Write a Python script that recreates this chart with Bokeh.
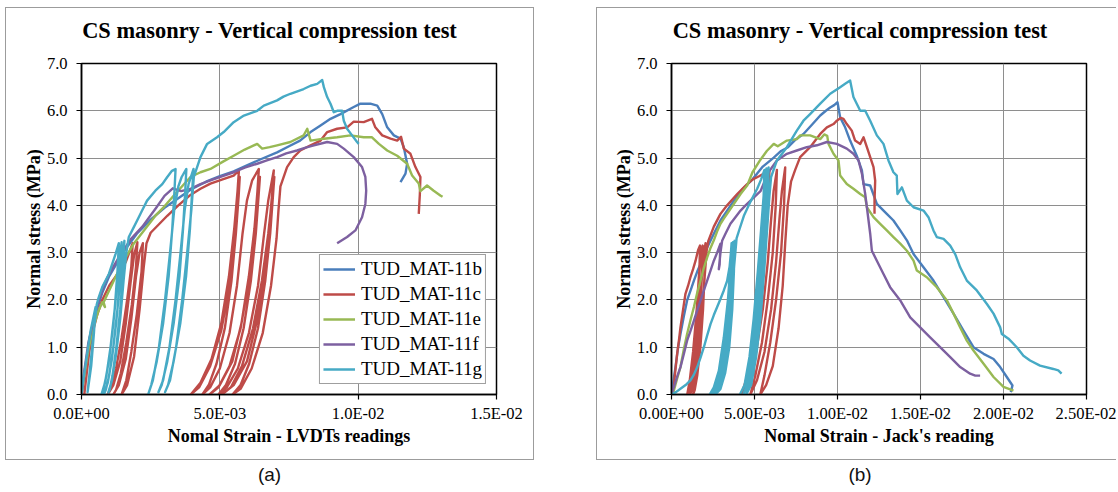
from bokeh.plotting import figure
from bokeh.models import Range1d, FixedTicker, Div, Spacer
from bokeh.layouts import row, column
from bokeh.embed import file_html
from bokeh.resources import INLINE

# ---------------- data ----------------
series_names = ["TUD_MAT-11b", "TUD_MAT-11c", "TUD_MAT-11e", "TUD_MAT-11f", "TUD_MAT-11g"]
series_colors = ["#4A7EBB", "#BE4B48", "#98B954", "#7D60A0", "#46AAC5"]

y_ticks = [0, 1, 2, 3, 4, 5, 6, 7]
y_tick_labels = ["0.0", "1.0", "2.0", "3.0", "4.0", "5.0", "6.0", "7.0"]
# strain values are stored in units of 1E-03
xa_ticks = [0, 5, 10, 15]
xa_tick_labels = ["0.0E+00", "5.0E-03", "1.0E-02", "1.5E-02"]
xb_ticks = [0, 5, 10, 15, 20, 25]
xb_tick_labels = ["0.00E+00", "5.00E-03", "1.00E-02", "1.50E-02", "2.00E-02", "2.50E-02"]

# (a) LVDT readings : (strain x1E-3, stress MPa)
a_11b = [(0, 0), (0.15, 0.6), (0.3, 1.2), (0.5, 1.7), (0.75, 2.15), (1.0, 2.5), (1.5, 3.0), (2.0, 3.4),
         (2.5, 3.7), (3.0, 3.95), (3.5, 4.15), (3.94, 4.33), (4.5, 4.5), (5.0, 4.62), (5.5, 4.72),
         (6.0, 4.85), (6.5, 4.98), (7.07, 5.12), (7.5, 5.25), (7.9, 5.37), (8.28, 5.55), (8.64, 5.69),
         (9.0, 5.83), (9.36, 5.93), (9.84, 6.08), (10.08, 6.15), (10.44, 6.15), (10.69, 6.11),
         (10.87, 5.93), (11.05, 5.65), (11.29, 5.48), (11.53, 5.41), (11.65, 5.23), (11.77, 4.88),
         (11.71, 4.67), (11.53, 4.49)]

a_11c = [(0.1, 0), (0.18, 0.4), (0.28, 0.9), (0.4, 1.3), (0.55, 1.65), (0.75, 2.0), (1.0, 2.3), (1.3, 2.55),
         (1.6, 2.8), (1.85, 3.2),
         (1.8, 2.7), (1.65, 2.0), (1.45, 1.2), (1.25, 0.55), (1.05, 0.15), (0.95, 0),
         (1.15, 0.2), (1.4, 0.7), (1.6, 1.5), (1.78, 2.4), (1.9, 2.95), (2.02, 3.22),
         (1.97, 2.7), (1.82, 1.9), (1.62, 1.1), (1.42, 0.45), (1.25, 0.1), (1.15, 0),
         (1.35, 0.2), (1.6, 0.75), (1.8, 1.6), (1.97, 2.5), (2.1, 3.0), (2.22, 3.2),
         (2.17, 2.6), (2.0, 1.7), (1.8, 0.9), (1.62, 0.3), (1.45, 0),
         (1.65, 0.2), (1.9, 0.8), (2.1, 1.8), (2.25, 2.7), (2.35, 3.2),
         (2.5, 3.42), (2.8, 3.6), (3.1, 3.78), (3.5, 4.0), (3.94, 4.22), (4.3, 4.35), (4.66, 4.46),
         (5.1, 4.55), (5.5, 4.63), (5.69, 4.74),
         (5.64, 4.3), (5.52, 3.5), (5.33, 2.5), (5.05, 1.5), (4.7, 0.75), (4.3, 0.25), (3.95, 0),
         (4.25, 0.15), (4.65, 0.6), (5.05, 1.35), (5.35, 2.3), (5.55, 3.3), (5.65, 4.0), (5.72, 4.6),
         (5.68, 4.2), (5.58, 3.4), (5.42, 2.4), (5.18, 1.4), (4.88, 0.65), (4.6, 0.2), (4.37, 0),
         (4.65, 0.15), (5.0, 0.55), (5.35, 1.3), (5.62, 2.3), (5.82, 3.4), (5.98, 4.1), (6.17, 4.53),
         (6.41, 4.77),
         (6.36, 4.3), (6.25, 3.5), (6.05, 2.5), (5.78, 1.5), (5.45, 0.7), (5.0, 0.2), (4.63, 0),
         (4.95, 0.15), (5.35, 0.6), (5.75, 1.4), (6.05, 2.4), (6.25, 3.4), (6.37, 4.1), (6.45, 4.6),
         (6.4, 4.2), (6.3, 3.4), (6.12, 2.4), (5.86, 1.4), (5.55, 0.65), (5.22, 0.2), (4.95, 0),
         (5.25, 0.15), (5.65, 0.55), (6.05, 1.3), (6.38, 2.3), (6.6, 3.4), (6.75, 4.1), (6.95, 4.74),
         (6.9, 4.3), (6.78, 3.5), (6.6, 2.5), (6.32, 1.5), (5.98, 0.7), (5.5, 0.2), (5.08, 0),
         (5.4, 0.15), (5.8, 0.6), (6.2, 1.4), (6.52, 2.4), (6.75, 3.4), (6.88, 4.1), (6.97, 4.6),
         (6.92, 4.2), (6.82, 3.4), (6.64, 2.4), (6.38, 1.4), (6.06, 0.65), (5.75, 0.2), (5.46, 0),
         (5.75, 0.12), (6.15, 0.55), (6.55, 1.3), (6.85, 2.3), (7.05, 3.3), (7.12, 3.9), (7.19, 4.4),
         (7.43, 4.81), (7.67, 5.02), (7.91, 5.16), (8.28, 5.27), (8.64, 5.37), (8.88, 5.55), (9.24, 5.62),
         (9.6, 5.65), (9.84, 5.77), (10.2, 5.76), (10.5, 5.83), (10.62, 5.65), (10.87, 5.48), (11.17, 5.41),
         (11.41, 5.37), (11.55, 5.45), (11.65, 5.2), (11.89, 5.09), (12.07, 4.81), (12.25, 4.6),
         (12.23, 4.24), (12.19, 3.82)]

a_11e = [(0, 0), (0.1, 0.4), (0.25, 0.95), (0.4, 1.35), (0.6, 1.75), (0.75, 1.95), (0.85, 1.85), (0.8, 1.95),
         (1.0, 2.2), (1.2, 2.45), (1.45, 2.75), (1.55, 2.7), (1.6, 2.9), (1.9, 3.2), (2.3, 3.5), (2.7, 3.8),
         (3.0, 3.98), (3.4, 4.25), (3.94, 4.6), (4.3, 4.7), (4.66, 4.77), (5.1, 4.92), (5.5, 5.05),
         (5.9, 5.18), (6.35, 5.3), (6.53, 5.2), (6.8, 5.23), (7.07, 5.27), (7.55, 5.34), (8.03, 5.48),
         (8.16, 5.62), (8.28, 5.37), (8.76, 5.41), (9.24, 5.44), (9.72, 5.48), (10.2, 5.44), (10.5, 5.44),
         (10.75, 5.3), (11.05, 5.16), (11.41, 5.05), (11.77, 4.88), (11.95, 4.63), (12.19, 4.46),
         (12.25, 4.3), (12.49, 4.42), (12.73, 4.31), (12.97, 4.21), (13.05, 4.18)]

a_11f = [(0, 0), (0.1, 0.5), (0.25, 1.1), (0.45, 1.6), (0.6, 1.95), (0.8, 2.3), (1.0, 2.55), (1.35, 2.9),
         (1.8, 3.3), (2.2, 3.55), (2.7, 3.95), (3.0, 4.2), (3.3, 4.36), (3.6, 4.3), (3.94, 4.35),
         (4.3, 4.45), (4.66, 4.53), (5.1, 4.62), (5.5, 4.7), (5.9, 4.8), (6.35, 4.88), (6.7, 4.95),
         (7.07, 5.02), (7.4, 5.1), (7.79, 5.16), (8.1, 5.22), (8.4, 5.27), (8.88, 5.34), (9.24, 5.3),
         (9.48, 5.2), (9.84, 5.02), (10.14, 4.81), (10.26, 4.6), (10.29, 4.31), (10.26, 4.03),
         (10.14, 3.75), (9.9, 3.47), (9.6, 3.33), (9.24, 3.2)]

a_11g = [(0, 0), (0.06, 0.3), (0.14, 0.6), (0.25, 1.05), (0.33, 1.35), (0.42, 1.6), (0.51, 1.85),
         (0.45, 1.3), (0.35, 0.6), (0.22, 0.05), (0.3, 0.5), (0.42, 1.2), (0.55, 1.9), (0.62, 2.05),
         (0.75, 2.27), (0.88, 2.42), (0.99, 2.55), (1.12, 2.78), (1.23, 2.97), (1.35, 3.2),
         (1.3, 2.6), (1.2, 1.8), (1.05, 1.0), (0.9, 0.4), (0.78, 0.08), (0.72, 0.0),
         (0.85, 0.25), (1.0, 0.75), (1.15, 1.5), (1.28, 2.3), (1.38, 2.9), (1.45, 3.22),
         (1.4, 2.6), (1.3, 1.8), (1.15, 1.0), (1.0, 0.4), (0.88, 0.1), (0.82, 0.02),
         (0.95, 0.25), (1.1, 0.75), (1.25, 1.5), (1.38, 2.3), (1.48, 2.9), (1.55, 3.25),
         (1.5, 2.6), (1.4, 1.8), (1.26, 1.0), (1.12, 0.4), (1.02, 0.1), (0.97, 0.04),
         (1.1, 0.3), (1.25, 0.85), (1.4, 1.6), (1.52, 2.4), (1.62, 3.0), (1.71, 3.33),
         (1.9, 3.55), (2.07, 3.75), (2.19, 3.89), (2.37, 4.1), (2.67, 4.31), (2.92, 4.45), (3.1, 4.6),
         (3.27, 4.73), (3.4, 4.77),
         (3.36, 4.3), (3.28, 3.5), (3.15, 2.5), (2.95, 1.5), (2.72, 0.7), (2.52, 0.2), (2.42, 0.02),
         (2.58, 0.3), (2.8, 1.0), (3.02, 2.0), (3.2, 3.0), (3.35, 3.9), (3.5, 4.4), (3.62, 4.6), (3.79, 4.77),
         (3.75, 4.3), (3.67, 3.5), (3.54, 2.5), (3.33, 1.5), (3.1, 0.7), (2.9, 0.2), (2.78, 0.05),
         (2.95, 0.3), (3.18, 1.0), (3.4, 2.0), (3.58, 3.0), (3.73, 3.9), (3.87, 4.45), (4.05, 4.77),
         (4.0, 4.3), (3.92, 3.5), (3.78, 2.5), (3.57, 1.5), (3.33, 0.7), (3.13, 0.2), (3.02, 0.05),
         (3.2, 0.3), (3.42, 1.0), (3.64, 2.0), (3.82, 3.0), (3.97, 3.9), (4.06, 4.6),
         (4.3, 5.02), (4.54, 5.3), (4.9, 5.44), (5.14, 5.55), (5.5, 5.76), (5.87, 5.9), (6.35, 6.0),
         (6.59, 6.11), (7.07, 6.22), (7.3, 6.3), (7.55, 6.36), (8.03, 6.46), (8.28, 6.53), (8.52, 6.57),
         (8.7, 6.65), (8.76, 6.5), (8.88, 6.29), (9.0, 6.15), (9.12, 5.97), (9.24, 6.0), (9.42, 6.0),
         (9.48, 5.79), (9.6, 5.62), (9.78, 5.48), (9.96, 5.34), (10.02, 5.3)]

# (b) Jack's reading : (strain x1E-3, stress MPa)
b_11b = [(0, 0), (0.1, 0.25), (0.24, 0.58), (0.4, 1.0), (0.54, 1.28), (0.74, 1.65), (0.94, 1.99),
         (1.15, 2.2), (1.35, 2.41), (1.55, 2.6), (1.75, 2.76), (1.95, 2.95), (2.15, 3.11), (2.55, 3.4),
         (2.95, 3.68), (3.35, 3.89), (3.76, 4.1), (4.3, 4.35), (4.88, 4.55), (5.5, 4.82), (6.16, 5.01),
         (6.6, 5.15), (7.02, 5.23), (7.5, 5.4), (7.95, 5.51), (8.5, 5.72), (8.96, 5.9), (9.3, 6.0),
         (9.56, 6.07), (9.8, 6.12), (10.0, 6.18), (10.16, 5.86), (10.46, 5.65), (10.76, 5.37),
         (11.16, 5.05), (11.47, 4.74), (11.57, 4.45), (11.97, 4.42), (12.37, 4.03), (12.97, 3.82),
         (13.37, 3.68), (13.78, 3.47), (14.18, 3.26), (14.58, 2.97), (15.18, 2.69), (15.78, 2.41),
         (16.39, 2.06), (16.99, 1.71), (17.59, 1.35), (18.19, 1.0), (18.8, 0.86), (19.4, 0.75),
         (19.8, 0.58), (20.2, 0.37), (20.54, 0.19), (20.44, 0.05)]

b_11c = [(0.1, 0), (0.2, 0.4), (0.34, 0.86), (0.45, 1.15), (0.54, 1.42), (0.7, 1.8), (0.84, 2.13),
         (1.0, 2.3), (1.14, 2.48), (1.3, 2.65), (1.45, 2.83), (1.6, 3.05), (1.72, 3.15),
         (1.68, 2.6), (1.58, 1.8), (1.42, 1.0), (1.22, 0.4), (1.05, 0.1), (0.95, 0),
         (1.1, 0.3), (1.3, 0.9), (1.5, 1.7), (1.65, 2.5), (1.78, 3.0), (1.88, 3.15),
         (1.84, 2.6), (1.74, 1.8), (1.58, 1.0), (1.38, 0.4), (1.22, 0.1), (1.12, 0),
         (1.28, 0.3), (1.48, 0.9), (1.68, 1.7), (1.83, 2.5), (1.96, 3.0), (2.05, 3.2),
         (2.0, 2.6), (1.9, 1.8), (1.74, 1.0), (1.55, 0.4), (1.4, 0.1), (1.3, 0),
         (1.46, 0.3), (1.66, 0.9), (1.86, 1.7), (2.0, 2.5), (2.12, 3.05), (2.22, 3.25),
         (2.55, 3.55), (2.95, 3.82), (3.35, 4.0), (3.65, 4.12), (3.96, 4.24), (4.3, 4.36), (4.56, 4.45),
         (4.9, 4.55), (5.3, 4.62), (5.6, 4.68), (5.9, 4.72),
         (5.82, 4.0), (5.62, 3.0), (5.32, 2.0), (4.97, 1.1), (4.57, 0.4), (4.22, 0),
         (4.6, 0.3), (5.1, 0.9), (5.5, 1.8), (5.8, 2.8), (6.0, 3.7), (6.15, 4.3), (6.35, 4.75),
         (6.28, 4.0), (6.1, 3.0), (5.8, 2.0), (5.45, 1.1), (5.05, 0.4), (4.75, 0),
         (5.15, 0.3), (5.6, 0.9), (6.0, 1.8), (6.3, 2.8), (6.5, 3.7), (6.65, 4.3), (6.85, 4.8),
         (6.78, 4.0), (6.6, 3.0), (6.3, 2.0), (5.95, 1.1), (5.6, 0.4), (5.35, 0),
         (5.7, 0.2), (6.1, 0.6), (6.45, 1.4), (6.7, 2.3), (6.85, 3.2), (7.0, 4.0), (7.2, 4.5), (7.45, 4.75),
         (7.75, 5.02), (8.35, 5.23), (8.96, 5.51), (9.36, 5.65), (9.76, 5.72), (9.96, 5.79), (10.2, 5.85),
         (10.36, 5.83), (10.56, 5.72), (10.86, 5.58), (11.06, 5.37), (11.37, 5.3), (11.57, 5.44),
         (11.77, 5.23), (11.97, 5.02), (12.17, 4.81), (12.27, 4.52), (12.23, 4.1), (12.23, 3.82)]

b_11e = [(0, 0), (0.14, 0.08), (0.35, 0.35), (0.54, 0.58), (0.74, 0.95), (0.94, 1.28), (1.15, 1.58),
         (1.35, 1.85), (1.55, 2.15), (1.75, 2.41), (1.95, 2.68), (2.15, 2.9), (2.35, 3.1), (2.55, 3.26),
         (2.75, 3.45), (2.95, 3.61), (3.15, 3.72), (3.35, 3.82), (3.76, 4.03), (4.16, 4.24), (4.56, 4.42),
         (4.88, 4.7), (5.31, 4.94), (5.74, 5.15), (6.16, 5.3), (6.4, 5.25), (6.95, 5.37), (7.55, 5.4),
         (7.75, 5.48), (8.35, 5.48), (8.96, 5.4), (9.2, 5.5), (9.38, 5.47), (9.46, 5.3), (9.76, 5.09),
         (10.06, 4.95), (10.16, 4.63), (10.56, 4.45), (10.96, 4.35), (11.37, 4.24), (11.67, 4.17),
         (11.77, 3.96), (12.17, 3.75), (12.57, 3.61), (12.97, 3.47), (13.37, 3.33), (13.78, 3.19),
         (14.18, 3.04), (14.58, 2.83), (14.78, 2.62), (15.38, 2.48), (15.98, 2.27), (16.59, 1.99),
         (16.99, 1.71), (17.39, 1.42), (17.79, 1.14), (18.19, 0.93), (18.8, 0.65), (19.4, 0.37),
         (20.0, 0.16), (20.6, 0.08)]

b_11f = [(0, 0), (0.14, 0.15), (0.34, 0.38), (0.54, 0.58), (0.74, 0.85), (0.94, 1.14), (1.15, 1.35),
         (1.35, 1.56), (1.55, 1.78), (1.75, 1.99), (1.95, 2.2), (2.15, 2.41), (2.35, 2.62), (2.55, 2.83),
         (2.75, 3.0), (2.95, 3.19), (2.9, 2.75), (2.85, 2.65), (2.95, 3.0), (3.05, 3.25), (3.25, 3.4),
         (3.55, 3.61), (3.85, 3.75), (4.16, 3.89), (4.46, 4.0), (4.76, 4.1), (5.06, 4.2), (5.36, 4.3),
         (5.6, 4.5), (5.8, 4.68), (6.35, 4.95), (6.95, 5.09), (7.55, 5.16), (8.15, 5.23), (8.76, 5.27),
         (9.36, 5.34), (9.96, 5.3), (10.56, 5.2), (10.96, 5.09), (11.27, 4.95), (11.47, 4.67),
         (11.67, 4.24), (11.77, 3.96), (11.97, 3.4), (12.07, 3.04), (12.37, 2.83), (12.77, 2.55),
         (13.17, 2.27), (13.78, 1.99), (14.38, 1.63), (14.98, 1.42), (15.58, 1.21), (16.18, 1.0),
         (16.79, 0.79), (17.39, 0.58), (17.99, 0.44), (18.3, 0.4), (18.59, 0.4)]

b_11g = [(0, 0), (0.27, 0.05), (0.54, 0.12), (0.85, 0.2), (1.14, 0.3), (1.35, 0.42), (1.55, 0.58),
         (1.75, 0.78), (1.95, 1.0), (2.15, 1.25), (2.35, 1.49), (2.55, 1.68), (2.75, 1.85), (2.95, 2.02),
         (3.15, 2.2), (3.35, 2.4), (3.5, 2.7), (3.58, 3.0), (3.62, 3.2),
         (3.58, 2.6), (3.48, 1.8), (3.3, 1.0), (3.05, 0.45), (2.75, 0.12), (2.5, 0.03), (2.3, 0),
         (2.55, 0.15), (2.85, 0.5), (3.15, 1.2), (3.4, 2.0), (3.55, 2.7), (3.7, 3.22),
         (3.66, 2.6), (3.56, 1.8), (3.38, 1.0), (3.13, 0.45), (2.85, 0.12), (2.6, 0.03), (2.42, 0),
         (2.67, 0.15), (2.97, 0.5), (3.27, 1.2), (3.5, 2.0), (3.65, 2.7), (3.8, 3.25),
         (3.76, 2.6), (3.66, 1.8), (3.48, 1.0), (3.23, 0.45), (2.95, 0.12), (2.72, 0.03), (2.55, 0),
         (2.8, 0.15), (3.1, 0.5), (3.4, 1.2), (3.62, 2.0), (3.77, 2.7), (3.92, 3.3),
         (4.1, 3.5), (4.36, 3.78), (4.76, 4.08), (5.16, 4.35), (5.4, 4.55), (5.6, 4.75),
         (5.55, 4.2), (5.45, 3.4), (5.28, 2.5), (5.02, 1.5), (4.72, 0.7), (4.4, 0.2), (4.12, 0),
         (4.4, 0.2), (4.7, 0.8), (4.95, 1.6), (5.2, 2.6), (5.4, 3.5), (5.55, 4.2), (5.72, 4.78),
         (5.67, 4.2), (5.57, 3.4), (5.4, 2.5), (5.14, 1.5), (4.84, 0.7), (4.55, 0.2), (4.32, 0),
         (4.6, 0.2), (4.9, 0.8), (5.15, 1.6), (5.38, 2.6), (5.57, 3.5), (5.7, 4.2), (5.85, 4.8),
         (5.8, 4.2), (5.7, 3.4), (5.53, 2.5), (5.28, 1.5), (4.98, 0.7), (4.7, 0.2), (4.5, 0),
         (4.8, 0.2), (5.1, 0.8), (5.36, 1.6), (5.58, 2.6), (5.76, 3.5), (5.9, 4.2), (6.0, 4.6),
         (6.35, 4.95), (6.95, 5.23), (7.55, 5.58), (7.95, 5.79), (8.35, 5.93), (8.96, 6.15), (9.56, 6.36),
         (10.16, 6.5), (10.46, 6.57), (10.76, 6.64),
         (10.96, 6.29), (11.16, 6.15), (11.37, 6.0), (11.67, 6.0), (11.97, 5.79), (12.37, 5.48),
         (12.77, 5.3), (13.07, 4.95), (13.37, 4.7), (13.57, 4.63), (13.61, 4.24), (13.88, 4.38),
         (14.18, 4.1), (14.58, 3.96), (15.18, 3.89), (15.48, 3.75), (15.78, 3.47), (15.98, 3.33),
         (16.39, 3.29), (16.79, 3.15), (17.09, 2.97), (17.39, 2.69), (17.79, 2.41), (18.39, 2.2),
         (18.99, 1.92), (19.4, 1.71), (19.8, 1.42), (19.9, 1.28), (20.3, 1.18), (20.8, 1.0), (21.2, 0.82),
         (21.6, 0.72), (22.2, 0.61), (23.0, 0.54), (23.3, 0.51), (23.5, 0.44)]

panel_a_series = [a_11b, a_11c, a_11e, a_11f, a_11g]
panel_b_series = [b_11b, b_11c, b_11e, b_11f, b_11g]

TITLE = "CS masonry - Vertical compression test"
SERIF = "Liberation Serif"
BOX = "1px solid #9c9c9c"


def make_panel(xlabel, xmax, xticks, xlabels, series, mbl, mbr, legend):
    p = figure(frame_width=415, frame_height=331,
               min_border_left=mbl, min_border_right=mbr, min_border_top=15, min_border_bottom=65,
               x_range=Range1d(0, xmax), y_range=Range1d(0, 7),
               output_backend="svg", toolbar_location=None)

    p.xaxis.ticker = FixedTicker(ticks=xticks)
    p.xaxis.major_label_overrides = {t: l for t, l in zip(xticks, xlabels)}
    p.yaxis.ticker = FixedTicker(ticks=y_ticks)
    p.yaxis.major_label_overrides = {t: l for t, l in zip(y_ticks, y_tick_labels)}
    p.xaxis.axis_label = xlabel
    p.yaxis.axis_label = "Normal stress (MPa)"
    for ax in (p.xaxis[0], p.yaxis[0]):
        ax.major_label_text_font = SERIF
        ax.major_label_text_font_size = "16.5px"
        ax.major_label_text_color = "black"
        ax.axis_label_text_font = SERIF
        ax.axis_label_text_font_size = "18px"
        ax.axis_label_text_font_style = "bold"
        ax.axis_label_text_color = "black"
        ax.axis_line_color = "black"
        ax.axis_line_width = 1.5
        ax.major_tick_line_color = "black"
        ax.major_tick_line_width = 1.2
        ax.major_tick_out = 5
        ax.major_tick_in = 0
        ax.minor_tick_out = 0
        ax.minor_tick_in = 0
    p.xaxis.major_label_standoff = 4
    p.yaxis.major_label_standoff = 9
    p.xaxis.axis_label_standoff = 0
    p.yaxis.axis_label_standoff = 0

    p.grid.grid_line_color = "#8e8e8e"
    p.grid.grid_line_width = 1
    p.outline_line_color = "black"
    p.outline_line_width = 1.5
    p.outline_line_alpha = 1
    p.background_fill_color = "white"
    p.border_fill_color = "white"

    for pts, name, col in zip(series, series_names, series_colors):
        xs = [q[0] for q in pts]
        ys = [q[1] for q in pts]
        if legend:
            p.line(xs, ys, line_color=col, line_width=2.4, line_join="round", legend_label=name)
        else:
            p.line(xs, ys, line_color=col, line_width=2.4, line_join="round")

    if legend:
        lg = p.legend[0]
        lg.location = "bottom_right"
        lg.margin = 10
        lg.padding = 3
        lg.spacing = 3
        lg.label_height = 22
        lg.glyph_height = 22
        lg.glyph_width = 32
        lg.label_standoff = 6
        lg.label_text_font = SERIF
        lg.label_text_font_size = "19px"
        lg.label_text_color = "black"
        lg.border_line_color = "#404040"
        lg.border_line_width = 1.2
        lg.background_fill_color = "white"
        lg.background_fill_alpha = 1
    return p


title_style = {"font-family": SERIF, "font-weight": "bold", "font-size": "22.4px",
               "text-align": "center", "line-height": "46px", "white-space": "nowrap",
               "color": "black"}

pa = make_panel("Nomal Strain - LVDTs readings", 15, xa_ticks, xa_tick_labels, panel_a_series,
                75, 37, True)
pb = make_panel("Nomal Strain - Jack's reading", 25, xb_ticks, xb_tick_labels, panel_b_series,
                74, 30, False)

ta = Div(text=TITLE, width=527, height=40, margin=(0, 0, 0, 0), styles=title_style)
tb = Div(text=TITLE, width=519, height=40, margin=(0, 0, 0, 0),
         styles=dict(title_style, **{"text-indent": "7px"}))

box_a = column(ta, pa, styles={"border": BOX})
box_b = column(tb, pb, styles={"border-left": BOX, "border-top": BOX, "border-bottom": BOX})

lab_style = {"text-align": "center", "font-family": "'Liberation Sans', Arial, sans-serif",
             "font-size": "19px", "color": "#111111", "line-height": "30px"}
da = Div(text="(a)", width=529, height=30, margin=(0, 0, 0, 0), styles=lab_style)
db = Div(text="(b)", width=520, height=30, margin=(0, 0, 0, 0),
         styles=dict(lab_style, **{"text-indent": "8px"}))

layout = column(Spacer(height=7),
                row(Spacer(width=5), column(box_a, da), Spacer(width=62), column(box_b, db)))

open("out.html", "w").write(file_html(layout, INLINE))
